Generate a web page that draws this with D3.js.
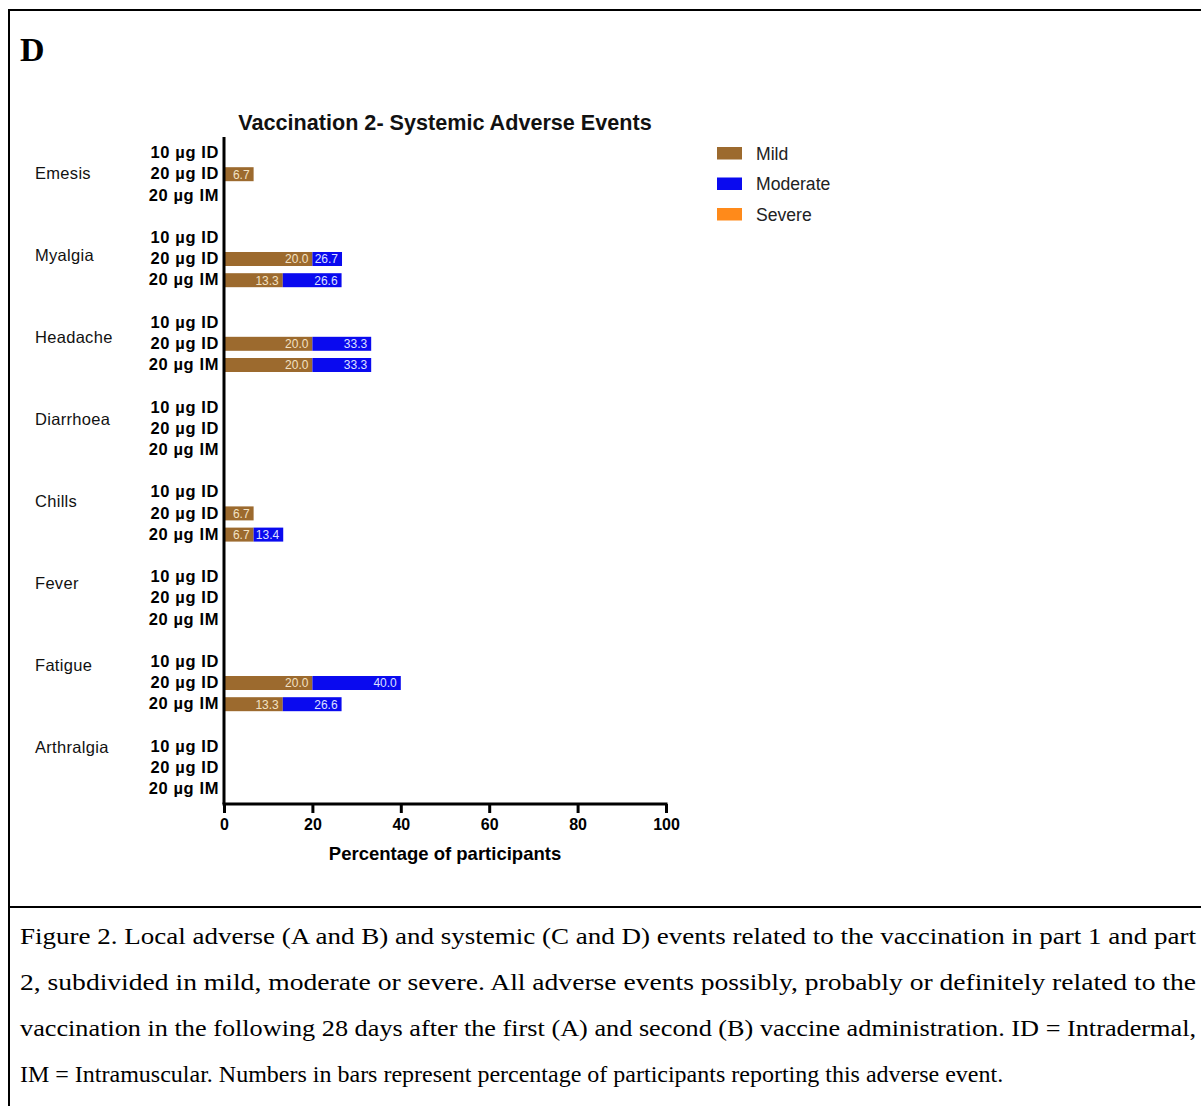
<!DOCTYPE html>
<html>
<head>
<meta charset="utf-8">
<script src="https://cdn.jsdelivr.net/npm/d3@7"></script>
<style>
  body { margin: 0; background: #fff; }
  svg { display: block; }
</style>
</head>
<body>
<svg width="1201" height="1106"></svg>
<script>
// chart data
var groups = ["Emesis", "Myalgia", "Headache", "Diarrhoea", "Chills", "Fever", "Fatigue", "Arthralgia"];
var doses = ["10 µg ID", "20 µg ID", "20 µg IM"];
var severities = ["Mild", "Moderate", "Severe"];
// percentages per group, one value per dose (segment sizes, labels show the running total)
var mild = [
  [0, 6.7, 0], [0, 20.0, 13.3], [0, 20.0, 20.0], [0, 0, 0],
  [0, 6.7, 6.7], [0, 0, 0], [0, 20.0, 13.3], [0, 0, 0]
];
var moderate = [
  [0, 0, 0], [0, 6.7, 13.3], [0, 13.3, 13.3], [0, 0, 0],
  [0, 0, 6.7], [0, 0, 0], [0, 20.0, 13.3], [0, 0, 0]
];
var severe = [
  [0, 0, 0], [0, 0, 0], [0, 0, 0], [0, 0, 0],
  [0, 0, 0], [0, 0, 0], [0, 0, 0], [0, 0, 0]
];
var xTicks = [0, 20, 40, 60, 80, 100];
var caption = [
  "Figure 2. Local adverse (A and B) and systemic (C and D) events related to the vaccination in part 1 and part",
  "2, subdivided in mild, moderate or severe. All adverse events possibly, probably or definitely related to the",
  "vaccination in the following 28 days after the first (A) and second (B) vaccine administration. ID = Intradermal,",
  "IM = Intramuscular. Numbers in bars represent percentage of participants reporting this adverse event."
];

var colors = {Mild: "#9c6a2e", Moderate: "#0a0aef", Severe: "#ff8a1a"};
var labelColors = {Mild: "#f3e2c4", Moderate: "#dfe0ff", Severe: "#fff"};
var sans = "'Liberation Sans', Arial, sans-serif";
var serif = "'Liberation Serif', 'Times New Roman', serif";

var svg = d3.select("svg");

// frame
svg.append("path")
    .attr("d", "M9,1106 V10 H1201 M9,907 H1201")
    .attr("fill", "none")
    .attr("stroke", "#000")
    .attr("stroke-width", 2);

svg.append("text")
    .attr("x", 20).attr("y", 61)
    .attr("font-family", serif)
    .attr("font-weight", "bold")
    .attr("font-size", 34)
    .text("D");

// rows: 4 slots per group (3 doses + gap)
var rows = [];
groups.forEach(function(g, gi) {
  doses.forEach(function(d, di) {
    rows.push({slot: gi * 4 + di, group: g, dose: d,
      Mild: mild[gi][di], Moderate: moderate[gi][di], Severe: severe[gi][di]});
  });
});

var x = d3.scaleLinear().domain([0, 100]).range([224, 666]);
var y = d3.scaleBand()
    .domain(d3.range(groups.length * 4 - 1))
    .range([142.4, 799.6])
    .paddingInner(0.34)
    .paddingOuter(0.17);
var axisY = 804;

var stack = d3.stack().keys(severities)(rows);

var layer = svg.append("g").selectAll("g")
  .data(stack)
  .join("g")
    .attr("fill", function(s) { return colors[s.key]; });

layer.selectAll("rect")
  .data(function(s) { return s.filter(function(p) { return p[1] > p[0]; }); })
  .join("rect")
    .attr("x", function(p) { return x(p[0]); })
    .attr("y", function(p) { return y(p.data.slot); })
    .attr("width", function(p) { return x(p[1]) - x(p[0]); })
    .attr("height", y.bandwidth());

layer.selectAll("text")
  .data(function(s) {
    return s.filter(function(p) { return p[1] > p[0]; })
      .map(function(p) { p.key = s.key; return p; });
  })
  .join("text")
    .attr("x", function(p) { return x(p[1]) - 4; })
    .attr("y", function(p) { return y(p.data.slot) + y.bandwidth() / 2; })
    .attr("dy", "0.36em")
    .attr("text-anchor", "end")
    .attr("font-family", sans)
    .attr("font-size", 12)
    .attr("fill", function(p) { return labelColors[p.key]; })
    .text(function(p) { return d3.format(".1f")(p[1]); });

// y axis (dose labels)
var gy = svg.append("g")
    .attr("transform", "translate(224,0)")
    .call(d3.axisLeft(y)
      .tickValues(rows.map(function(r) { return r.slot; }))
      .tickFormat(function(s) { return doses[s % 4]; })
      .tickSize(0)
      .tickPadding(5));
gy.select(".domain").remove();
gy.selectAll("text")
    .attr("font-family", sans)
    .attr("font-weight", "bold")
    .attr("font-size", 16.5)
    .attr("letter-spacing", 0.6)
    .attr("fill", "#000");

svg.append("line")
    .attr("x1", 224).attr("x2", 224)
    .attr("y1", 137).attr("y2", axisY)
    .attr("stroke", "#000")
    .attr("stroke-width", 3);

// x axis
var gx = svg.append("g")
    .attr("transform", "translate(0," + axisY + ")")
    .call(d3.axisBottom(x).tickValues(xTicks).tickSize(9).tickSizeOuter(0).tickPadding(6));
gx.select(".domain").attr("stroke-width", 3).attr("d", "M222.5,0H667.5");
gx.selectAll(".tick line").attr("stroke-width", 3);
gx.selectAll("text")
    .attr("font-family", sans)
    .attr("font-weight", "bold")
    .attr("font-size", 16)
    .attr("fill", "#000");

svg.append("text")
    .attr("x", 445).attr("y", 860)
    .attr("text-anchor", "middle")
    .attr("font-family", sans)
    .attr("font-weight", "bold")
    .attr("font-size", 18.5)
    .text("Percentage of participants");

svg.append("text")
    .attr("x", 445).attr("y", 130)
    .attr("text-anchor", "middle")
    .attr("font-family", sans)
    .attr("font-weight", "bold")
    .attr("font-size", 21.6)
    .attr("fill", "#111")
    .text("Vaccination 2- Systemic Adverse Events");

// group names
var gName = d3.scalePoint().domain(groups).range([173, 747]);
svg.append("g").selectAll("text")
  .data(groups)
  .join("text")
    .attr("x", 35)
    .attr("y", function(g) { return gName(g); })
    .attr("dy", "0.36em")
    .attr("font-family", sans)
    .attr("font-size", 16.5)
    .attr("letter-spacing", 0.3)
    .attr("fill", "#111")
    .text(function(g) { return g; });

// legend
var leg = svg.append("g").selectAll("g")
  .data(severities)
  .join("g")
    .attr("transform", function(d, i) { return "translate(717," + (147 + i * 30.5) + ")"; });
leg.append("rect")
    .attr("width", 25).attr("height", 12.5)
    .attr("fill", function(d) { return colors[d]; });
leg.append("text")
    .attr("x", 39).attr("y", 6.5)
    .attr("dy", "0.36em")
    .attr("font-family", sans)
    .attr("font-size", 17.6)
    .attr("fill", "#222")
    .text(function(d) { return d; });

// caption, justified like the source document (glyphs stretched to the line)
var capW = 1176;
caption.forEach(function(line, i) {
  var t = svg.append("text")
      .attr("x", 20).attr("y", 944 + i * 46)
      .attr("font-family", serif)
      .attr("font-size", 24)
      .text(line);
  if (i < caption.length - 1) {
    t.attr("textLength", capW).attr("lengthAdjust", "spacingAndGlyphs");
  }
});
</script>
</body>
</html>
